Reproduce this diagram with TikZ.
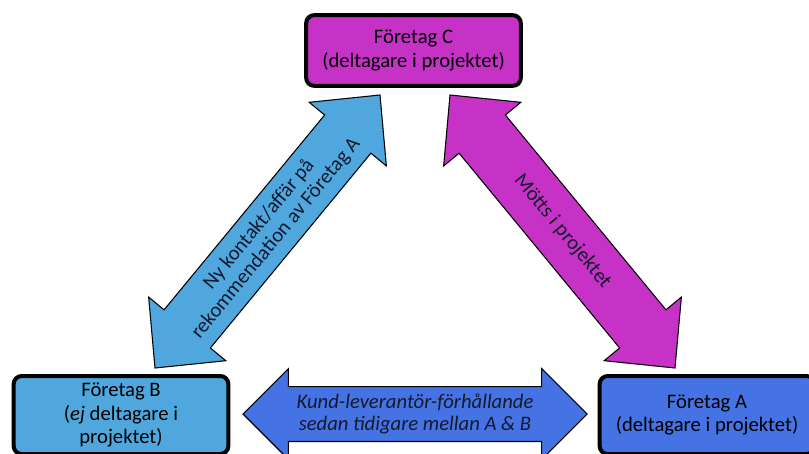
\documentclass[tikz,border=0pt]{standalone}
\usepackage{fontspec}
\setmainfont{Carlito}
\usetikzlibrary{calc}

\definecolor{firmC}{RGB}{198,50,198}
\definecolor{firmB}{RGB}{79,167,221}
\definecolor{firmA}{RGB}{70,115,227}
\definecolor{lbltext}{RGB}{20,25,45}

% block arrow with two heads: style, from, to, half shaft, half head, head length
\newcommand{\dblarrow}[6]{%
  \draw[#1] (#2)
    -- ($(#2)!#6!(#3)!#5!90:(#3)$)
    -- ($(#2)!#6!(#3)!#4!90:(#3)$)
    -- ($(#3)!#6!(#2)!#4!-90:(#2)$)
    -- ($(#3)!#6!(#2)!#5!-90:(#2)$)
    -- (#3)
    -- ($(#3)!#6!(#2)!#5!90:(#2)$)
    -- ($(#3)!#6!(#2)!#4!90:(#2)$)
    -- ($(#2)!#6!(#3)!#4!-90:(#3)$)
    -- ($(#2)!#6!(#3)!#5!-90:(#3)$)
    -- cycle;}

\begin{document}
\begin{tikzpicture}[x=0.75pt,y=-0.75pt,
    firm/.style = {draw, line width=3pt, rounded corners=6pt, align=center,
                   font=\fontsize{15.5}{17.5}\selectfont, minimum width=161pt, inner sep=2pt},
    link/.style = {draw, line width=0.8pt, line join=miter},
    lbl/.style = {align=center, text=lbltext, font=\fontsize{15.5}{16.5}\selectfont}]
    \useasboundingbox (0,0) rectangle (809,453);
    \clip (0,0) rectangle (809,453);

    % the three firms
    \node [firm, fill=firmC, minimum height=53pt] (C) at (413.5,50.5) {Företag C\\(deltagare i projektet)};
    \node [firm, fill=firmB, minimum height=58.5pt] (B) at (121,415) {Företag B\\(\emph{ej} deltagare i\\projektet)};
    \node [firm, fill=firmA, minimum height=58.5pt] (A) at (707,415) {Företag A\\(deltagare i projektet)};

    % arrow ends
    \coordinate (bc-b) at (155,368);
    \coordinate (bc-c) at (380,95);
    \coordinate (ca-c) at (450,95);
    \coordinate (ca-a) at (675,368);
    \coordinate (ba-b) at (243,414);
    \coordinate (ba-a) at (587,414);

    \dblarrow{link, fill=firmB}{bc-b}{bc-c}{22.5pt}{37.5pt}{38pt}
    \dblarrow{link, fill=firmC}{ca-c}{ca-a}{22.5pt}{37.5pt}{38pt}
    \dblarrow{link, fill=firmA}{ba-b}{ba-a}{20.6pt}{34pt}{34pt}

    \path (bc-b) -- node [lbl, sloped] {Ny kontakt/affär på\\rekommendation av Företag A} (bc-c);
    \path (ca-c) -- node [lbl, sloped] {Mötts i projektet} (ca-a);
    \path (ba-b) -- node [lbl, font=\fontsize{15.5}{16.5}\selectfont\itshape] {Kund-leverantör-förhållande\\sedan tidigare mellan A \& B} (ba-a);
\end{tikzpicture}
\end{document}
